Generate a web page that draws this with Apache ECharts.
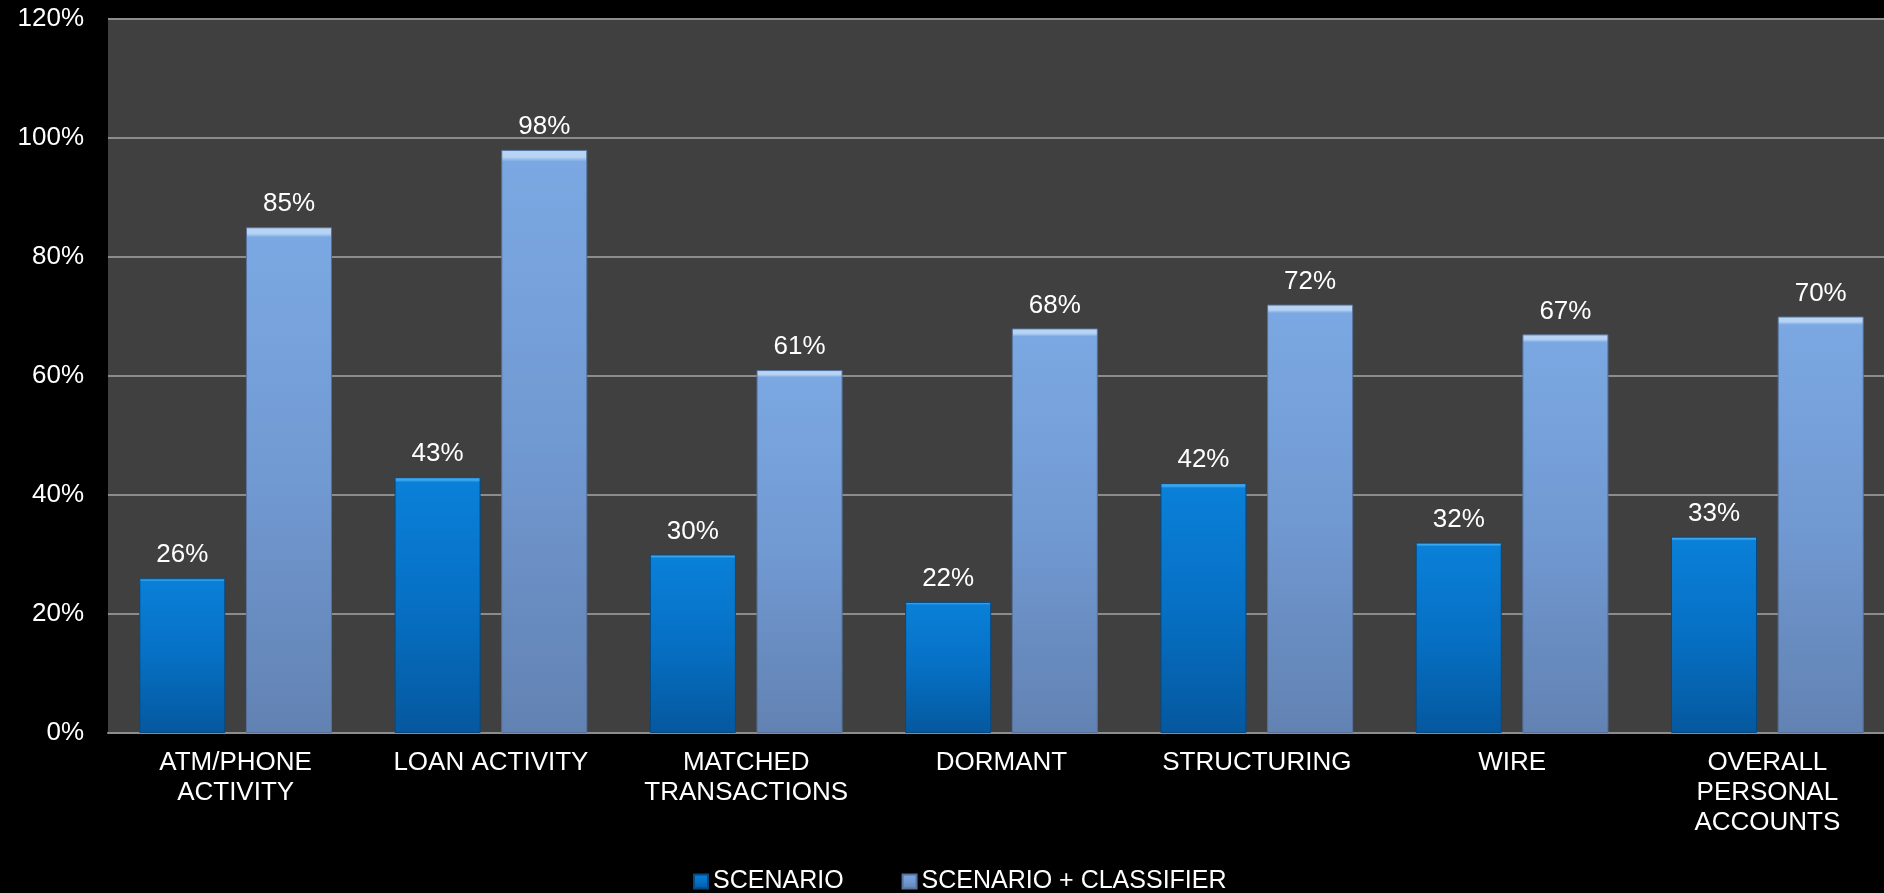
<!DOCTYPE html>
<html>
<head>
<meta charset="utf-8">
<script src="https://cdn.jsdelivr.net/npm/echarts@6/dist/echarts.min.js"></script>
<style>
html,body{margin:0;padding:0;background:#000;}
#chart{width:1884px;height:893px;}
</style>
</head>
<body>
<div id="chart"></div>
<script>
const categories = ["ATM/PHONE\nACTIVITY", "LOAN ACTIVITY", "MATCHED\nTRANSACTIONS", "DORMANT", "STRUCTURING", "WIRE", "OVERALL\nPERSONAL\nACCOUNTS"];
const scenario = [26, 43, 30, 22, 42, 32, 33];
const scenarioClassifier = [85, 98, 61, 68, 72, 67, 70];
const seriesNames = ["SCENARIO", "SCENARIO + CLASSIFIER"];

const chart = echarts.init(document.getElementById('chart'));
const font = '"Liberation Sans", Arial, sans-serif';
function grad(top, bevel, mid, bottom) {
  return new echarts.graphic.LinearGradient(0, 0, 0, 1, [
    {offset: 0, color: bevel},
    {offset: 0.012, color: bevel},
    {offset: 0.02, color: top},
    {offset: 0.5, color: mid},
    {offset: 1, color: bottom}
  ]);
}
const c1 = grad('#0a80d8', '#3aa6ee', '#0670c4', '#05589e');
const c2 = grad('#7ba8e2', '#b8d4f4', '#7199d2', '#6282b2');
const labelStyle = {show: true, position: 'top', distance: 10, color: '#fff', fontSize: 26, fontFamily: font, formatter: '{c}%'};
chart.setOption({
  backgroundColor: '#000',
  animation: false,
  grid: {left: 108, width: 1787, top: 19, bottom: 160, show: true, backgroundColor: '#404040', borderWidth: 0,
         containLabel: false, outerBoundsMode: 'none'},
  legend: {
    top: 864, left: 688, itemGap: 58, itemWidth: 14, itemHeight: 14, icon: 'rect',
    textStyle: {color: '#fff', fontSize: 25, fontFamily: font},
    data: seriesNames
  },
  xAxis: {
    type: 'category', data: categories,
    axisLine: {show: true, lineStyle: {color: '#8c8c8c', width: 2}},
    axisTick: {show: false},
    axisLabel: {color: '#fff', fontSize: 26, fontFamily: font, lineHeight: 30, margin: 15, interval: 0}
  },
  yAxis: {
    type: 'value', min: 0, max: 120, interval: 20,
    axisLine: {show: false}, axisTick: {show: false},
    axisLabel: {color: '#fff', fontSize: 26, fontFamily: font, formatter: '{value}%', margin: 24},
    splitLine: {lineStyle: {color: '#8c8c8c', width: 2}}
  },
  series: [
    {name: seriesNames[0], type: 'bar', data: scenario, barWidth: '33.7%', barGap: '24%',
     itemStyle: {color: c1, borderColor: '#034a85', borderWidth: 1}, label: labelStyle},
    {name: seriesNames[1], type: 'bar', data: scenarioClassifier, barWidth: '33.7%', barGap: '24%',
     itemStyle: {color: c2, borderColor: '#55719c', borderWidth: 1}, label: labelStyle}
  ]
});
</script>
</body>
</html>
